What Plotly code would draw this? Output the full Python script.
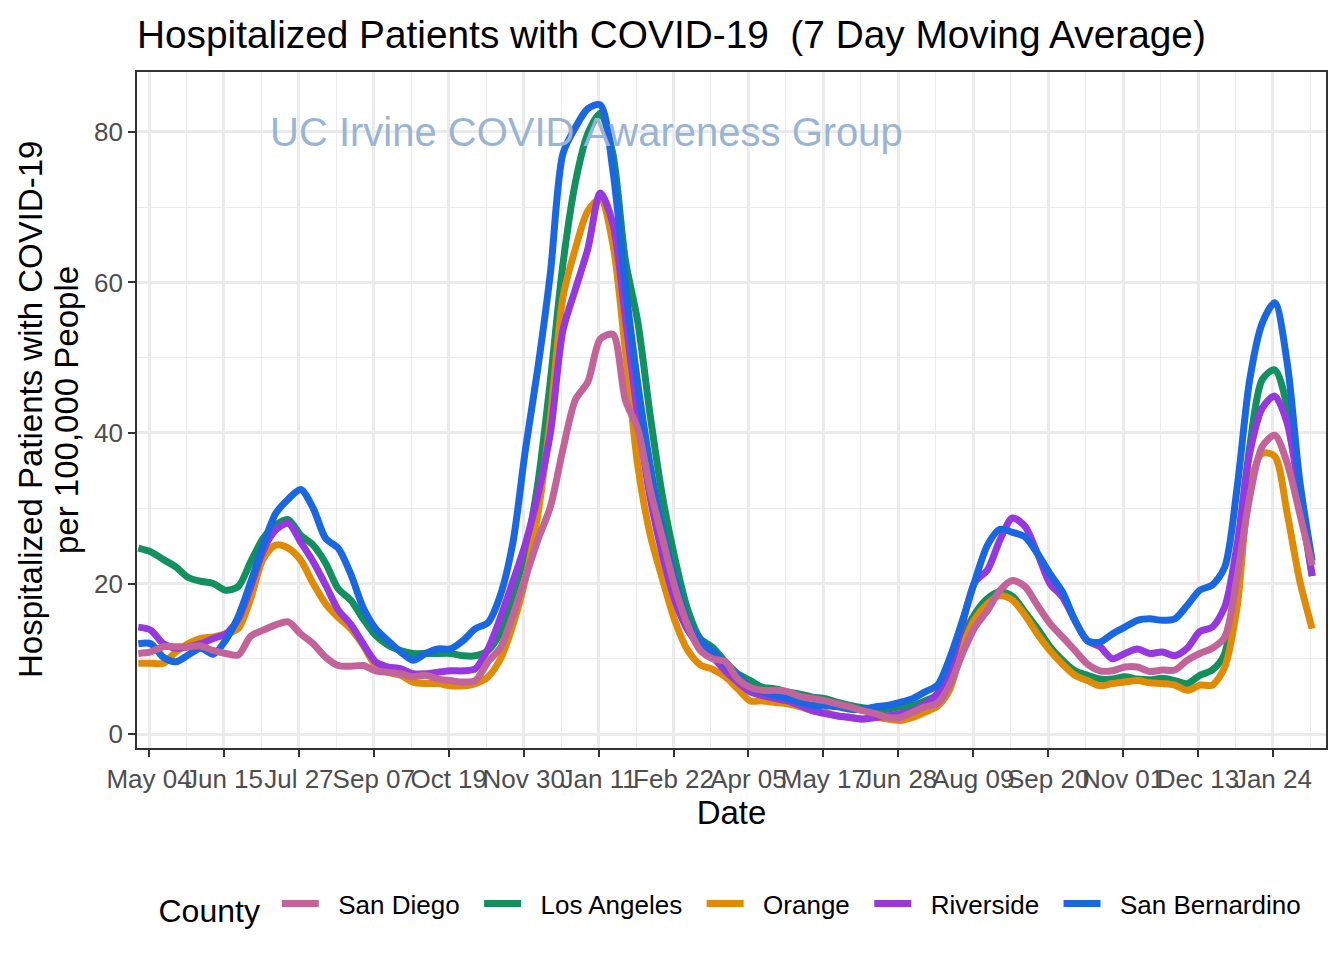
import pandas as pd
import plotly.graph_objects as go

# ---- data (weekly readings of the 7-day moving average, per 100,000 people) ----
dates = pd.date_range("2020-04-28", periods=95, freq="7D")

san_diego = [
    10.7, 10.9, 11.6, 11.6, 11.6, 11.7, 11.1, 10.7, 10.5, 13.0,
    13.8, 14.5, 14.9, 13.3, 12.0, 10.2, 9.1, 9.0, 9.1, 8.4,
    8.2, 8.0, 7.6, 7.8, 7.3, 7.1, 6.9, 7.1, 9.6, 11.5,
    15.8, 20.8, 25.8, 30.2, 37.8, 44.4, 46.8, 52.5, 53.1, 44.4,
    40.5, 32.4, 25.8, 19.3, 14.4, 11.1, 10.0, 9.6, 7.3, 6.2,
    5.8, 5.8, 5.6, 5.0, 4.7, 4.4, 4.0, 3.6, 3.1, 2.7,
    2.2, 2.2, 2.9, 3.6, 4.1, 6.6, 10.7, 14.2, 16.4, 19.1,
    20.4, 19.6, 17.1, 14.7, 12.9, 11.1, 9.3, 8.4, 8.4, 8.9,
    8.9, 8.3, 8.5, 8.5, 9.8, 10.7, 11.4, 12.9, 21.0, 31.5,
    38.2, 39.7, 36.0, 29.3, 22.4]

los_angeles = [
    24.7, 24.2, 23.2, 22.2, 20.8, 20.3, 20.0, 19.1, 19.6, 22.9,
    26.0, 27.8, 28.5, 26.4, 25.1, 22.7, 19.3, 17.8, 15.3, 13.1,
    11.8, 11.1, 10.7, 10.7, 10.7, 10.7, 10.4, 10.4, 11.1, 13.5,
    18.5, 24.2, 33.4, 47.0, 62.4, 73.3, 79.8, 82.5, 77.1, 63.0,
    54.7, 42.2, 31.3, 23.1, 16.5, 12.7, 11.5, 9.6, 8.0, 7.1,
    6.2, 6.0, 5.6, 5.3, 4.9, 4.7, 4.2, 3.8, 3.5, 3.3,
    3.3, 3.6, 3.8, 4.4, 5.2, 7.8, 12.9, 16.0, 18.0, 18.9,
    18.3, 16.2, 14.0, 11.6, 9.8, 8.4, 7.8, 7.3, 7.3, 7.6,
    7.3, 7.2, 7.4, 7.1, 6.7, 7.8, 8.5, 10.7, 24.0, 38.2,
    47.1, 48.4, 43.5, 31.5, 21.0]

orange = [
    9.4, 9.4, 9.4, 10.9, 12.0, 12.7, 12.9, 13.3, 14.0, 18.0,
    23.3, 25.1, 24.7, 23.1, 20.0, 17.3, 15.5, 14.0, 11.8, 9.1,
    8.2, 7.8, 6.9, 6.7, 6.7, 6.4, 6.4, 6.7, 7.6, 10.0,
    14.5, 20.6, 29.2, 42.0, 58.0, 64.5, 69.5, 71.1, 65.1, 50.9,
    35.6, 26.4, 20.4, 14.9, 11.1, 9.2, 8.6, 7.6, 6.0, 4.4,
    4.4, 4.2, 4.0, 3.6, 3.1, 2.9, 2.4, 2.2, 2.0, 2.2,
    2.0, 1.8, 2.2, 2.9, 3.7, 6.0, 11.6, 15.3, 17.3, 18.4,
    17.8, 15.8, 13.3, 11.1, 9.3, 7.8, 7.1, 6.4, 6.7, 6.9,
    7.1, 6.8, 6.7, 6.5, 5.8, 6.5, 6.5, 8.9, 17.0, 32.9,
    37.3, 36.9, 29.3, 20.4, 14.0]

riverside = [
    14.2, 13.8, 12.0, 11.4, 11.6, 12.0, 12.7, 13.3, 15.3, 19.6,
    24.4, 27.1, 28.0, 25.5, 22.9, 19.8, 16.5, 14.6, 12.0, 9.6,
    8.9, 8.7, 8.0, 8.0, 8.2, 8.4, 8.4, 8.7, 11.3, 15.5,
    20.3, 25.3, 31.8, 40.0, 53.6, 59.1, 64.5, 71.9, 67.8, 55.3,
    42.2, 31.3, 23.6, 17.6, 13.8, 11.6, 10.2, 8.4, 6.9, 5.6,
    5.1, 4.7, 4.4, 3.8, 3.1, 2.7, 2.4, 2.2, 2.0, 2.2,
    2.4, 2.7, 3.1, 4.0, 5.4, 8.8, 14.7, 20.2, 21.8, 25.8,
    28.7, 27.6, 24.0, 20.0, 18.2, 15.1, 12.4, 11.6, 10.0, 10.7,
    11.3, 10.7, 10.9, 10.4, 11.4, 13.6, 14.2, 16.9, 25.3, 37.3,
    43.3, 44.9, 41.3, 31.5, 21.0]

san_bernardino = [
    12.0, 12.0, 10.2, 9.6, 10.5, 11.4, 10.6, 12.5, 15.6, 20.2,
    25.1, 29.3, 31.2, 32.5, 30.0, 26.0, 24.7, 21.3, 16.8, 14.0,
    12.4, 10.9, 9.8, 10.7, 11.3, 11.3, 12.4, 14.0, 14.8, 18.5,
    25.5, 37.8, 48.7, 61.3, 77.1, 80.6, 83.1, 83.6, 74.9, 59.6,
    46.5, 35.6, 26.9, 20.4, 14.9, 12.4, 11.0, 9.3, 7.8, 6.2,
    5.6, 5.1, 4.7, 4.2, 3.8, 3.8, 3.6, 3.3, 3.3, 3.6,
    3.8, 4.2, 4.7, 5.6, 6.5, 10.2, 15.1, 20.4, 25.1, 27.2,
    26.8, 26.2, 24.0, 21.3, 18.9, 15.1, 12.4, 12.2, 13.3, 14.2,
    15.1, 15.3, 15.1, 15.3, 17.1, 19.1, 19.8, 22.2, 32.9, 47.1,
    54.6, 57.3, 49.3, 33.7, 23.0]

counties = ["San Diego", "Los Angeles", "Orange", "Riverside", "San Bernardino"]
series = {"San Diego": san_diego, "Los Angeles": los_angeles, "Orange": orange,
          "Riverside": riverside, "San Bernardino": san_bernardino}
colors = {"San Diego": "#C2649A", "Los Angeles": "#12905F", "Orange": "#E08B05",
          "Riverside": "#9637E0", "San Bernardino": "#1967E1"}
draw_order = ["Los Angeles", "Orange", "Riverside", "San Bernardino", "San Diego"]

tick_dates = pd.date_range("2020-05-04", periods=16, freq="42D")
tick_text = [d.strftime("%b %d") for d in tick_dates]
minor_dates = pd.date_range("2020-04-13", periods=18, freq="42D")

FONT = "Liberation Sans, Arial, Helvetica, sans-serif"

fig = go.Figure()
for name in draw_order:
    trailing = "" if name == counties[-1] else "  "
    fig.add_trace(go.Scatter(
        x=dates, y=series[name], name="  " + name + trailing, mode="lines",
        line=dict(color=colors[name], width=7, shape="spline", smoothing=0.8),
        legendrank=counties.index(name) + 1,
    ))

fig.add_annotation(
    x="2021-01-04", y=80, xref="x", yref="y", text="UC Irvine COVID Awareness Group",
    showarrow=False, font=dict(family=FONT, size=40, color="#9AB5D3"),
    xanchor="center", yanchor="middle",
)

# y-axis title (two lines, ggplot-like line spacing)
fig.add_annotation(x=0, y=0.5, xref="paper", yref="paper",
                   text="Hospitalized Patients with COVID-19", showarrow=False,
                   textangle=-90, font=dict(family=FONT, size=33, color="black"),
                   xanchor="center", yanchor="middle", xshift=-107)
fig.add_annotation(x=0, y=0.5, xref="paper", yref="paper",
                   text="per 100,000 People", showarrow=False,
                   textangle=-90, font=dict(family=FONT, size=33, color="black"),
                   xanchor="center", yanchor="middle", xshift=-71)

fig.update_layout(
    width=1344, height=960,
    margin=dict(l=137, r=18, t=72, b=212),
    paper_bgcolor="white", plot_bgcolor="white",
    font=dict(family=FONT, color="black"),
    title=dict(text="Hospitalized Patients with COVID-19  (7 Day Moving Average)",
               x=0, xref="paper", xanchor="left",
               y=1 - 34 / 960, yref="container", yanchor="middle",
               font=dict(size=38.8, color="black", family=FONT)),
    showlegend=True,
    legend=dict(orientation="h", x=0.5, xanchor="center", y=-0.2337, yanchor="middle",
                title=dict(text="County ", font=dict(size=32, family=FONT), side="left"),
                font=dict(size=26, family=FONT), itemwidth=37, traceorder="normal"),
)

fig.update_xaxes(
    type="date", range=["2020-04-27 06:00", "2022-02-22 18:00"],
    tickvals=tick_dates, ticktext=tick_text, tickangle=0,
    tickfont=dict(size=26, color="#4D4D4D", family=FONT),
    ticks="outside", ticklen=7, tickwidth=2, tickcolor="#333333",
    showgrid=True, gridcolor="#EBEBEB", gridwidth=2.6,
    minor=dict(tickvals=minor_dates, showgrid=True, gridcolor="#EBEBEB", gridwidth=1.4, ticks=""),
    showline=True, mirror=True, linecolor="#333333", linewidth=1.6,
    zeroline=False,
    title=dict(text="Date", font=dict(size=33, color="black", family=FONT), standoff=6),
)
fig.update_yaxes(
    range=[-1.86, 87.97], tickvals=[0, 20, 40, 60, 80],
    tickfont=dict(size=26, color="#4D4D4D", family=FONT),
    ticks="outside", ticklen=7, tickwidth=2, tickcolor="#333333",
    showgrid=True, gridcolor="#EBEBEB", gridwidth=2.6,
    minor=dict(tickvals=[10, 30, 50, 70], showgrid=True, gridcolor="#EBEBEB", gridwidth=1.4, ticks=""),
    showline=True, mirror=True, linecolor="#333333", linewidth=1.6,
    zeroline=False,
)

fig.write_html("out.html")
